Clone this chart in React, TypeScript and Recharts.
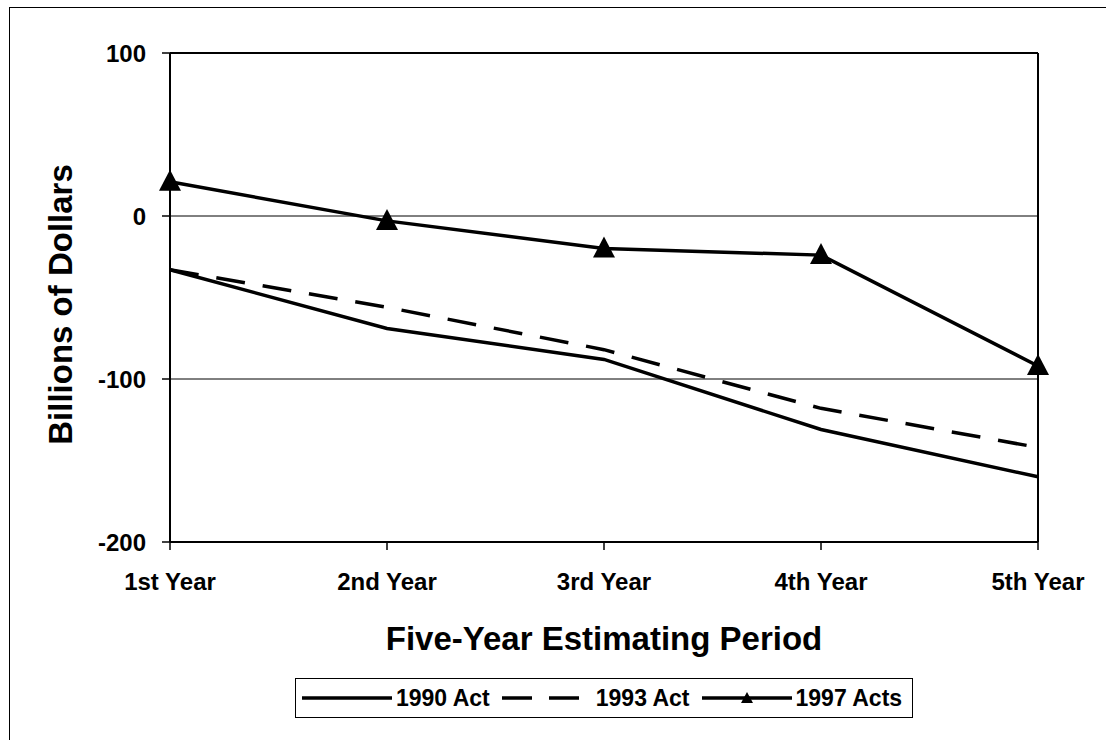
import React from 'react';
import {
  LineChart,
  Line,
  XAxis,
  YAxis,
  CartesianGrid,
  ReferenceLine,
  Legend,
  Label,
} from 'recharts';

const years = ['1st Year', '2nd Year', '3rd Year', '4th Year', '5th Year'];
const act1990 = [-33, -69, -88, -131, -160];
const act1993 = [-33, -56, -82, -118, -142];
const acts1997 = [21, -3, -20, -24, -92];
const yTicks = [-200, -100, 0, 100];

const FONT = '"Liberation Sans", Arial, Helvetica, sans-serif';

const SERIES = [
  { key: 'a1990', name: '1990 Act', dash: undefined as string | undefined, marker: false },
  { key: 'a1993', name: '1993 Act', dash: '29 18', marker: false },
  { key: 'a1997', name: '1997 Acts', dash: undefined as string | undefined, marker: true },
];

const data = years.map((year, i) => ({
  year,
  a1990: act1990[i],
  a1993: act1993[i],
  a1997: acts1997[i],
}));

function Triangle(props: any) {
  const { cx, cy, index } = props;
  if (cx == null || cy == null) return <g key={index} />;
  return (
    <path
      key={index}
      d={`M${cx},${cy - 12} L${cx - 11},${cy + 9} L${cx + 11},${cy + 9} Z`}
      fill="#000"
    />
  );
}

function LegendBox() {
  return (
    <div
      style={{
        display: 'flex',
        alignItems: 'center',
        border: '1.5px solid #000',
        padding: '4px 10px 4px 6px',
        background: '#fff',
        fontFamily: FONT,
        fontWeight: 700,
        fontSize: 23,
        color: '#000',
        height: 30,
      }}
    >
      {SERIES.map((s, i) => (
        <div key={s.key} style={{ display: 'flex', alignItems: 'center', marginRight: i < 2 ? 12 : 0 }}>
          <svg width={90} height={20} style={{ display: 'block' }}>
            <line x1={0} y1={10} x2={90} y2={10} stroke="#000" strokeWidth={3.5} strokeDasharray={s.dash ? '30 17' : undefined} />
            {s.marker && <path d="M45,4 L39,15 L51,15 Z" fill="#000" />}
          </svg>
          <span style={{ marginLeft: 4, whiteSpace: 'nowrap' }}>{s.name}</span>
        </div>
      ))}
    </div>
  );
}

export default function App() {
  return (
    <div style={{ position: 'absolute', left: 0, top: 0, width: 1106, height: 740, overflow: 'hidden', background: '#fff' }}>
      <div
        style={{
          position: 'absolute',
          left: 9,
          top: 7,
          width: 1300,
          height: 900,
          border: '1.5px solid #000',
        }}
      />
      <div style={{ position: 'absolute', left: 0, top: 0 }}>
        <LineChart
          width={1106}
          height={740}
          data={data}
          margin={{ top: 53, right: 68, left: 60, bottom: 158 }}
        >
          <CartesianGrid vertical={false} stroke="#000" strokeWidth={1} />
          <ReferenceLine y={100} stroke="#000" strokeWidth={2} />
          <ReferenceLine x="5th Year" stroke="#000" strokeWidth={2} />
          <XAxis
            dataKey="year"
            height={40}
            axisLine={{ stroke: '#000', strokeWidth: 2 }}
            tickLine={{ stroke: '#000', strokeWidth: 1.5 }}
            tickSize={8}
            tickMargin={23}
            interval={0}
            tick={{ fill: '#000', fontSize: 24, fontWeight: 700, fontFamily: FONT }}
          >
            <Label
              content={(p: any) => {
                const vb = p.viewBox || {};
                return (
                  <text
                    x={vb.x + vb.width / 2}
                    y={vb.y + vb.height + 68}
                    textAnchor="middle"
                    fontFamily={FONT}
                    fontWeight={700}
                    fontSize={33}
                    fill="#000"
                  >
                    Five-Year Estimating Period
                  </text>
                );
              }}
            />
          </XAxis>
          <YAxis
            width={110}
            domain={[-200, 100]}
            ticks={yTicks}
            interval={0}
            axisLine={{ stroke: '#000', strokeWidth: 2 }}
            tickLine={{ stroke: '#000', strokeWidth: 1.5 }}
            tickSize={8}
            tickMargin={16}
            tick={{ fill: '#000', fontSize: 24, fontWeight: 700, fontFamily: FONT }}
          >
            <Label
              content={(p: any) => {
                const vb = p.viewBox || {};
                const x = vb.x + 12;
                const y = vb.y + vb.height / 2 + 7;
                return (
                  <text
                    x={x}
                    y={y}
                    transform={`rotate(-90, ${x}, ${y})`}
                    textAnchor="middle"
                    fontFamily={FONT}
                    fontWeight={700}
                    fontSize={33}
                    fill="#000"
                  >
                    Billions of Dollars
                  </text>
                );
              }}
            />
          </YAxis>
          <Legend
            verticalAlign="middle"
            align="center"
            wrapperStyle={{ position: 'absolute', top: 678, left: 295, width: 'auto' }}
            content={() => <LegendBox />}
          />
          {SERIES.map((s) => (
            <Line
              key={s.key}
              type="linear"
              dataKey={s.key}
              name={s.name}
              stroke="#000"
              strokeWidth={3.5}
              strokeDasharray={s.dash}
              dot={s.marker ? (props: any) => <Triangle {...props} /> : false}
              activeDot={false}
              isAnimationActive={false}
            />
          ))}
        </LineChart>
      </div>
    </div>
  );
}
